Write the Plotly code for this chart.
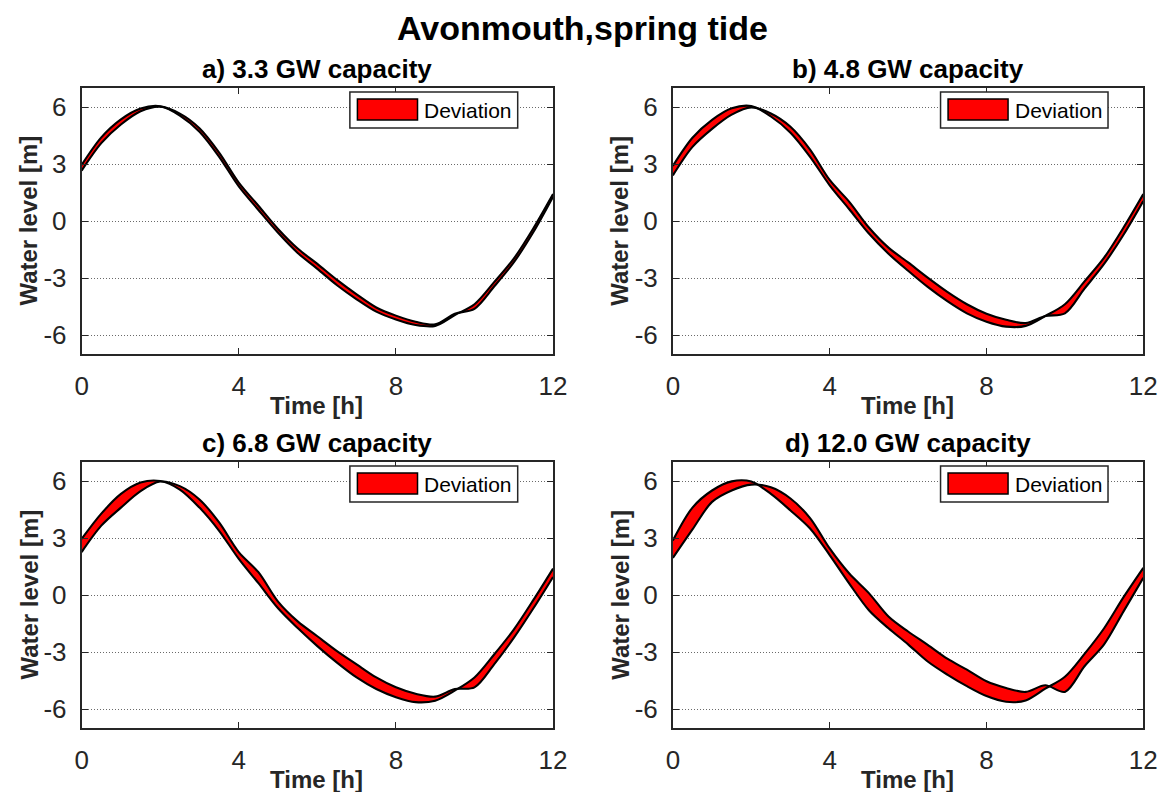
import plotly.graph_objects as go

W, H = 1174, 792

hours = [0, 0.5, 1, 1.5, 2, 2.5, 3, 3.5, 4, 4.5, 5, 5.5, 6, 6.5, 7, 7.5, 8, 8.5, 9, 9.5, 10, 10.5, 11, 11.5, 12]

panel_titles = ["a) 3.3 GW capacity", "b) 4.8 GW capacity", "c) 6.8 GW capacity", "d) 12.0 GW capacity"]

a_lead = [2.95, 4.40, 5.35, 5.92, 6.04, 5.55, 4.70, 3.38, 1.82, 0.58, -0.62, -1.68, -2.52, -3.38, -4.12, -4.77, -5.18, -5.47, -5.52, -4.95, -4.38, -3.22, -1.98, -0.38, 1.42]
a_lag = [2.65, 4.10, 5.08, 5.78, 6.02, 5.65, 4.88, 3.60, 2.02, 0.80, -0.42, -1.45, -2.26, -3.10, -3.86, -4.55, -4.98, -5.30, -5.44, -4.88, -4.62, -3.45, -2.18, -0.58, 1.28]

b_lead = [2.90, 4.38, 5.32, 5.93, 6.05, 5.50, 4.65, 3.38, 1.88, 0.62, -0.66, -1.72, -2.62, -3.47, -4.22, -4.86, -5.30, -5.56, -5.52, -5.00, -4.38, -3.18, -1.93, -0.33, 1.42]
b_lag = [2.40, 3.90, 4.85, 5.60, 5.98, 5.66, 4.96, 3.76, 2.16, 1.01, -0.34, -1.40, -2.18, -2.98, -3.73, -4.38, -4.88, -5.20, -5.37, -5.00, -4.86, -3.56, -2.26, -0.71, 1.05]

c_lead = [2.95, 4.28, 5.32, 5.92, 6.00, 5.55, 4.60, 3.38, 1.90, 0.62, -0.70, -1.74, -2.69, -3.56, -4.34, -4.95, -5.38, -5.64, -5.56, -5.03, -4.34, -3.13, -1.82, -0.26, 1.39]
c_lag = [2.26, 3.65, 4.60, 5.47, 5.97, 5.73, 5.03, 3.82, 2.26, 1.20, -0.35, -1.39, -2.17, -2.95, -3.65, -4.34, -4.86, -5.20, -5.35, -4.95, -4.86, -3.65, -2.26, -0.70, 0.95]

d_lead = [2.87, 4.60, 5.50, 5.98, 5.97, 5.32, 4.45, 3.50, 2.10, 0.60, -0.80, -1.75, -2.60, -3.50, -4.19, -4.80, -5.32, -5.62, -5.55, -4.93, -4.30, -3.10, -1.75, -0.10, 1.43]
d_lag = [1.95, 3.45, 4.90, 5.50, 5.81, 5.67, 5.08, 4.05, 2.45, 1.13, 0.10, -1.13, -1.92, -2.62, -3.35, -3.93, -4.54, -4.89, -5.10, -4.75, -5.10, -3.75, -2.60, -0.85, 0.90]

x_ticks = [0, 4, 8, 12]
x_ticktext = ["0", "4", "8", "12"]
y_ticks = [-6, -3, 0, 3, 6]
y_ticktext = ["-6", "-3", "0", "3", "6"]

leads = [a_lead, b_lead, c_lead, d_lead]
lags = [a_lag, b_lag, c_lag, d_lag]

FONT = "Liberation Sans, Arial, Helvetica, sans-serif"
AX = "#262626"

# panel pixel boxes: (left, right, top, bottom)
boxes = [(76, 556, 88, 354), (678, 1157, 88, 354), (76, 556, 462, 728), (678, 1157, 462, 728)]

fig = go.Figure()

for i in range(4):
    xa = "x" if i == 0 else f"x{i+1}"
    ya = "y" if i == 0 else f"y{i+1}"
    fig.add_trace(go.Scatter(x=hours, y=leads[i], xaxis=xa, yaxis=ya, mode="lines",
                             line=dict(color="black", width=2.1, shape="spline", smoothing=0.9),
                             showlegend=False, hoverinfo="skip"))
    fig.add_trace(go.Scatter(x=hours, y=lags[i], xaxis=xa, yaxis=ya, mode="lines",
                             line=dict(color="black", width=2.1, shape="spline", smoothing=0.9),
                             fill="tonexty", fillcolor="#ff0000",
                             name="Deviation", showlegend=False, hoverinfo="skip"))

layout = dict(width=W, height=H, margin=dict(l=0, r=0, t=0, b=0),
              paper_bgcolor="white", plot_bgcolor="white",
              font=dict(family=FONT, color=AX), showlegend=False)

annotations = []
shapes = []

def px2x(x):
    return x / W

def px2y(y):
    return 1 - y / H

for i, (l, r, t, b) in enumerate(boxes):
    sx = "" if i == 0 else str(i + 1)
    xa_key = "xaxis" + sx
    ya_key = "yaxis" + sx
    layout[xa_key] = dict(domain=[px2x(l), px2x(r)], anchor="y" + sx, range=[0, 12],
                          tickvals=x_ticks, ticktext=x_ticktext, ticks="inside", ticklen=6,
                          tickcolor=AX, tickwidth=1.2, showline=True, linecolor=AX, linewidth=1.8,
                          mirror="ticks", showgrid=False, zeroline=False,
                          tickfont=dict(size=26, color=AX, family=FONT), ticklabelstandoff=8,
                          fixedrange=True)
    layout[ya_key] = dict(domain=[px2y(b), px2y(t)], anchor="x" + sx, range=[-7, 7],
                          tickvals=y_ticks, ticktext=y_ticktext, ticks="inside", ticklen=6,
                          tickcolor=AX, tickwidth=1.2, showline=True, linecolor=AX, linewidth=1.8,
                          mirror="ticks", showgrid=True, gridcolor="#6a6a6a", griddash="1px,2px",
                          gridwidth=1, zeroline=False,
                          tickfont=dict(size=26, color=AX, family=FONT), ticklabelstandoff=8,
                          fixedrange=True)
    cx = (l + r) / 2
    # subplot title
    annotations.append(dict(text="<b>" + panel_titles[i] + "</b>", x=px2x(cx), y=px2y(t - 19),
                            xref="paper", yref="paper", xanchor="center", yanchor="middle",
                            showarrow=False, font=dict(size=26, color="black", family=FONT)))
    # x axis title
    annotations.append(dict(text="<b>Time [h]</b>", x=px2x(cx - 1), y=px2y(b + 51),
                            xref="paper", yref="paper", xanchor="center", yanchor="middle",
                            showarrow=False, font=dict(size=24, color=AX, family=FONT)))
    # y axis title
    annotations.append(dict(text="<b>Water level [m]</b>", x=px2x(l - 54), y=px2y((t + b) / 2),
                            xref="paper", yref="paper", xanchor="center", yanchor="middle",
                            textangle=-90, showarrow=False,
                            font=dict(size=24, color=AX, family=FONT)))
    # legend box
    xd = "x" + sx + " domain"
    yd = "y" + sx + " domain"
    shapes.append(dict(type="rect", xref=xd, yref=yd, x0=0.569, x1=0.925, y0=0.850, y1=0.985,
                       fillcolor="white", line=dict(color=AX, width=1.5), layer="above"))
    shapes.append(dict(type="rect", xref=xd, yref=yd, x0=0.585, x1=0.7125, y0=0.880, y1=0.959,
                       fillcolor="#ff0000", line=dict(color="black", width=1.5), layer="above"))
    annotations.append(dict(text="Deviation", x=0.723, y=0.914, xref=xd, yref=yd,
                            xanchor="left", yanchor="middle", showarrow=False,
                            font=dict(size=21, color="black", family=FONT)))

annotations.append(dict(text="<b>Avonmouth,spring tide</b>", x=px2x(586), y=px2y(28),
                        xref="paper", yref="paper", xanchor="center", yanchor="middle",
                        showarrow=False, font=dict(size=34, color="black", family=FONT)))

layout["annotations"] = annotations
layout["shapes"] = shapes
fig.update_layout(**layout)

fig.write_html("out.html")
